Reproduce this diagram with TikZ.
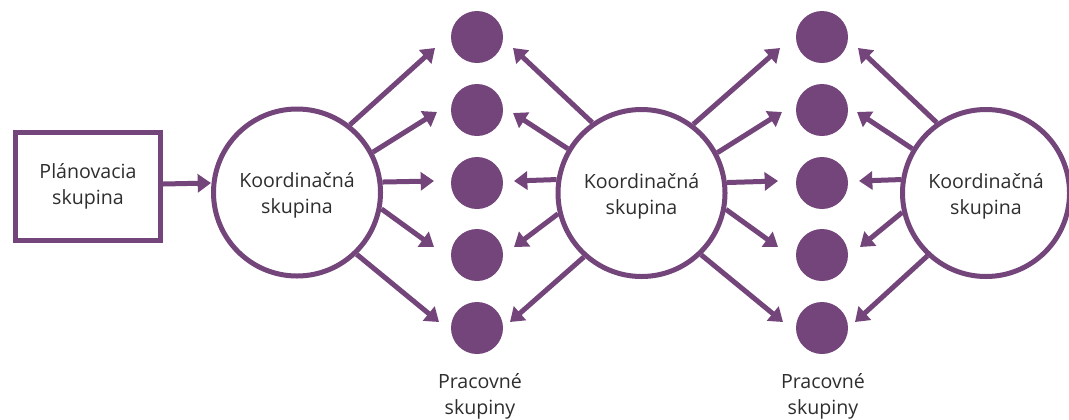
\documentclass[tikz,border=0pt]{standalone}
\usepackage{fontspec}
\setmainfont{Open Sans}
\usetikzlibrary{arrows.meta}
\definecolor{plum}{HTML}{73457A}
\definecolor{txt}{HTML}{2E2E2E}
\newcommand{\lowstrut}{\rule{0pt}{16pt}}
\begin{document}
\begin{tikzpicture}[x=0.75pt,y=-0.75pt,
  every node/.style={font=\fontsize{14.7}{19.5}\selectfont, text=txt, align=center},
  koord/.style={circle, draw=plum, line width=3.75pt, fill=white, minimum size=125.25pt, inner sep=0pt},
  plan/.style={rectangle, draw=plum, line width=3.75pt, minimum width=108.75pt, minimum height=81pt, inner sep=0pt},
  dot/.style={circle, fill=plum, minimum size=39pt, inner sep=0pt},
  arr/.style={draw=plum, line width=3.75pt, -{Triangle[length=10pt,width=13.5pt]}},
  lbl/.style={}
]
\useasboundingbox (0,0) rectangle (1069,419);
% nodes
\node[plan] (p) at (88,186.5) {Plánovacia\\skupina};
\node[koord] (c1) at (297,192.5) {\lowstrut Koordinačná\\skupina};
\node[koord] (c2) at (641.5,193) {\lowstrut Koordinačná\\skupina};
\node[koord] (c3) at (986,193) {\lowstrut Koordinačná\\skupina};
\foreach \i/\y in {1/37,2/110,3/183,4/255,5/328}{
  \node[dot] (a\i) at (477,\y) {};
  \node[dot] (b\i) at (822,\y) {};
}
\node[lbl] (la) at (480,396) {Pracovné\\skupiny};
\node[lbl] (lb) at (823,396) {Pracovné\\skupiny};
% connectors
\draw[arr] (p.east |- 0,184) coordinate (ps) -- (c1.west |- 0,183) coordinate (pe);
% circle 1 -> column a
\foreach \i/\ang/\dx/\dy in {1/52.5/-42/11, 2/28.3/-40/2, 3/7.1/-43/-2, 4/-11.8/-43/-8, 5/-46.8/-38/-6}
  \draw[arr] (c1.\ang) -- ([shift={(\dx,\dy)}]a\i.center);
% circle 2 -> column a
\foreach \i/\ang/\dx/\dy in {1/125.7/36/11, 2/149/36/3, 3/171/37/-2, 4/194.7/37/-8, 5/228/33/-6}
  \draw[arr] (c2.\ang) -- ([shift={(\dx,\dy)}]a\i.center);
% circle 2 -> column b
\foreach \i/\ang/\dx/\dy in {1/53/-42/11, 2/28.6/-40/2, 3/7.9/-44/-2, 4/-11/-44/-8, 5/-46.4/-39/-6}
  \draw[arr] (c2.\ang) -- ([shift={(\dx,\dy)}]b\i.center);
% circle 3 -> column b
\foreach \i/\ang/\dx/\dy in {1/125.5/36/11, 2/149.5/35/2, 3/171/37/-2, 4/193/38/-8, 5/227/33/-6}
  \draw[arr] (c3.\ang) -- ([shift={(\dx,\dy)}]b\i.center);
\end{tikzpicture}
\end{document}
